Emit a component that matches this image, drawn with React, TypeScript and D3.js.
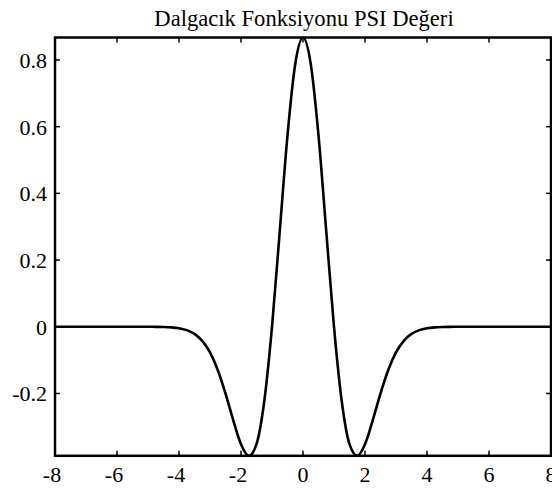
import React from "react";
import * as d3 from "d3";

const titleText = "Dalgacık Fonksiyonu PSI Değeri";

const tValues: number[] = [
  -8, -7.75, -7.5, -7.25, -7, -6.75, -6.5, -6.25, -6, -5.75, -5.5, -5.25, -5,
  -4.75, -4.5, -4.25, -4, -3.75, -3.5, -3.25, -3, -2.75, -2.5, -2.25, -2,
  -1.75, -1.5, -1.25, -1, -0.75, -0.5, -0.25, 0, 0.25, 0.5, 0.75, 1, 1.25,
  1.5, 1.75, 2, 2.25, 2.5, 2.75, 3, 3.25, 3.5, 3.75, 4, 4.25, 4.5, 4.75, 5,
  5.25, 5.5, 5.75, 6, 6.25, 6.5, 6.75, 7, 7.25, 7.5, 7.75, 8,
];

const psiValues: number[] = [
  0, 0, 0, 0, 0, 0, 0, 0, 0, 0, 0, 0, -0.00008,
  -0.00024, -0.00067, -0.00177, -0.00436, -0.01001, -0.02134, -0.04218, -0.07708, -0.12974, -0.20006, -0.28033, -0.35214,
  -0.38687, -0.35197, -0.22336, 0, 0.28643, 0.57406, 0.7881, 0.86732, 0.7881, 0.57406, 0.28643, 0, -0.22336,
  -0.35197, -0.38687, -0.35214, -0.28033, -0.20006, -0.12974, -0.07708, -0.04218, -0.02134, -0.01001, -0.00436, -0.00177, -0.00067, -0.00024, -0.00008,
  0, 0, 0, 0, 0, 0, 0, 0, 0, 0, 0, 0,
];

const xTicks: number[] = [-8, -6, -4, -2, 0, 2, 4, 6, 8];
const yTicks: number[] = [-0.2, 0, 0.2, 0.4, 0.6, 0.8];

export default function App() {
  const W = 552;
  const H = 489;
  const left = 55;
  const right = 551;
  const top = 37.5;
  const bottom = 455.8;

  const x = d3.scaleLinear().domain([-8, 8]).range([left, right]);
  const y = d3
    .scaleLinear()
    .domain([d3.min(psiValues) as number, d3.max(psiValues) as number])
    .range([bottom, top]);

  const line = d3
    .line<number>()
    .x((_, i) => x(tValues[i]))
    .y((d) => y(d))
    .curve(d3.curveMonotoneX);

  const tickLen = 5;
  const font = "'Liberation Serif', 'Times New Roman', serif";

  return (
    <svg
      width={W}
      height={H}
      style={{ position: "absolute", left: 0, top: 0, background: "#fff" }}
    >
      <rect x={0} y={0} width={W} height={H} fill="#fff" />
      <text
        x={(left + right) / 2 + 1}
        y={26}
        textAnchor="middle"
        fontFamily={font}
        fontSize={22.6}
        fill="#000"
      >
        {titleText}
      </text>
      <defs>
        <clipPath id="plotClip">
          <rect x={left} y={top - 1} width={right - left} height={bottom - top + 2} />
        </clipPath>
      </defs>
      <path
        d={line(psiValues) || ""}
        fill="none"
        stroke="#000"
        strokeWidth={2.6}
        strokeLinejoin="round"
        clipPath="url(#plotClip)"
      />
      {xTicks.map((t) => (
        <g key={"x" + t}>
          <line x1={x(t)} x2={x(t)} y1={bottom} y2={bottom - tickLen} stroke="#000" strokeWidth={1.5} />
          <line x1={x(t)} x2={x(t)} y1={top} y2={top + tickLen} stroke="#000" strokeWidth={1.5} />
          <text
            x={x(t) - (t < 0 ? 3 : 0)}
            y={482}
            textAnchor="middle"
            fontFamily={font}
            fontSize={22}
            fill="#000"
          >
            {t}
          </text>
        </g>
      ))}
      {yTicks.map((t) => (
        <g key={"y" + t}>
          <line x1={left} x2={left + tickLen} y1={y(t)} y2={y(t)} stroke="#000" strokeWidth={1.5} />
          <line x1={right} x2={right - tickLen} y1={y(t)} y2={y(t)} stroke="#000" strokeWidth={1.5} />
          <text
            x={left - 8}
            y={y(t)}
            dy="0.36em"
            textAnchor="end"
            fontFamily={font}
            fontSize={22}
            fill="#000"
          >
            {t}
          </text>
        </g>
      ))}
      <rect
        x={left}
        y={top}
        width={right - left}
        height={bottom - top}
        fill="none"
        stroke="#000"
        strokeWidth={2.5}
      />
    </svg>
  );
}
